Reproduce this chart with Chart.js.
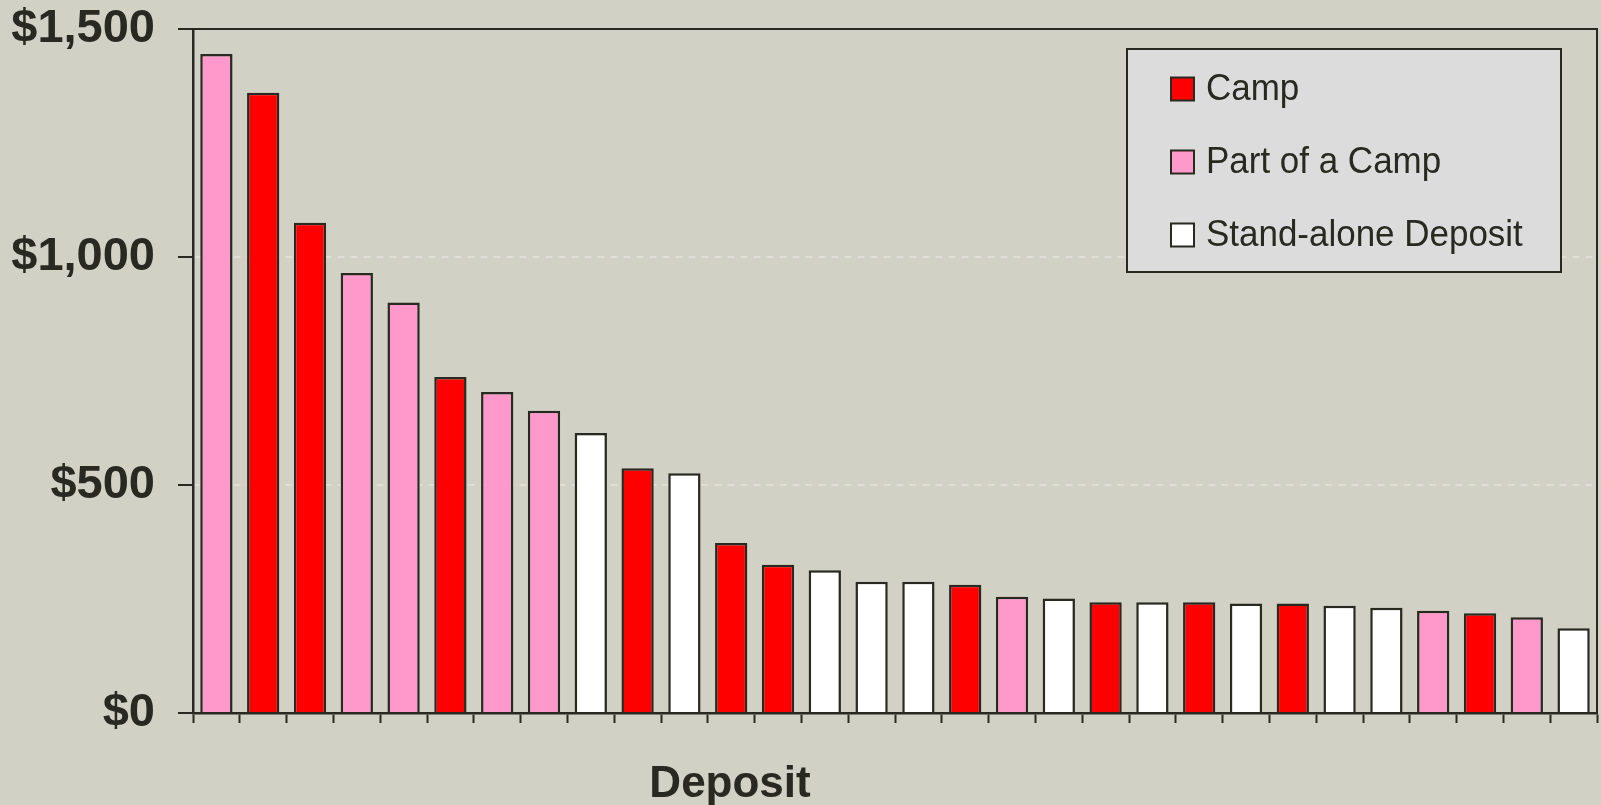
<!DOCTYPE html>
<html>
<head>
<meta charset="utf-8">
<script src="https://cdn.jsdelivr.net/npm/chart.js@4.4.0/dist/chart.umd.min.js"></script>
<style>
  html, body { margin: 0; padding: 0; background: #d1d1c5; }
  #wrap { width: 1601px; height: 805px; position: relative; }
</style>
</head>
<body>
<div id="wrap"><canvas id="c"></canvas></div>
<script>
// ---- Data ----
const deposits = ['Deposit 1','Deposit 2','Deposit 3','Deposit 4','Deposit 5','Deposit 6','Deposit 7','Deposit 8','Deposit 9','Deposit 10',
                  'Deposit 11','Deposit 12','Deposit 13','Deposit 14','Deposit 15','Deposit 16','Deposit 17','Deposit 18','Deposit 19','Deposit 20',
                  'Deposit 21','Deposit 22','Deposit 23','Deposit 24','Deposit 25','Deposit 26','Deposit 27','Deposit 28','Deposit 29','Deposit 30'];
const values = [1445, 1360, 1075, 965, 900, 737, 704, 663, 614, 537,
                526, 373, 325, 313, 288, 288, 281, 255, 251, 243,
                243, 243, 240, 240, 235, 231, 224, 219, 210, 186];
const types = ['Part of a Camp','Camp','Camp','Part of a Camp','Part of a Camp','Camp','Part of a Camp','Part of a Camp','Stand-alone Deposit','Camp',
               'Stand-alone Deposit','Camp','Camp','Stand-alone Deposit','Stand-alone Deposit','Stand-alone Deposit','Camp','Part of a Camp','Stand-alone Deposit','Camp',
               'Stand-alone Deposit','Camp','Stand-alone Deposit','Camp','Stand-alone Deposit','Stand-alone Deposit','Part of a Camp','Camp','Part of a Camp','Stand-alone Deposit'];
const seriesNames = ['Camp', 'Part of a Camp', 'Stand-alone Deposit'];
const seriesColors = ['#ff0000', '#ff99cc', '#ffffff'];
const yTicks = [0, 500, 1000, 1500];
const xTitle = 'Deposit';

// ---- Styles ----
const INK = '#282a21';
const BG = '#d1d1c5';
const FONT = "'Liberation Sans', Arial, Helvetica, sans-serif";
const colorOf = t => seriesColors[seriesNames.indexOf(t)];

const bgPlugin = {
  id: 'bg',
  beforeDraw(c) {
    const ctx = c.ctx;
    ctx.save();
    ctx.fillStyle = BG;
    ctx.fillRect(0, 0, c.width, c.height);
    ctx.restore();
  }
};

const framePlugin = {
  id: 'frame',
  afterDatasetsDraw(c) {
    const { left, top, right, bottom } = c.chartArea;
    const ctx = c.ctx;
    ctx.save();
    ctx.strokeStyle = INK;
    ctx.lineWidth = 2;
    ctx.beginPath();
    ctx.moveTo(left, top);
    ctx.lineTo(right, top);
    ctx.lineTo(right, bottom);
    ctx.stroke();
    ctx.restore();
  }
};

const boxLegend = {
  id: 'boxLegend',
  afterDraw(c) {
    const { right, top } = c.chartArea;
    const ctx = c.ctx;
    const bx = right - 470, by = top + 20, bw = 434, bh = 223;
    ctx.save();
    ctx.fillStyle = '#dcdcdc';
    ctx.fillRect(bx, by, bw, bh);
    ctx.strokeStyle = INK;
    ctx.lineWidth = 2;
    ctx.strokeRect(bx, by, bw, bh);
    ctx.font = '37px ' + FONT;
    ctx.textBaseline = 'middle';
    ctx.textAlign = 'left';
    seriesNames.forEach((name, i) => {
      const cy = by + 40 + i * 73;
      ctx.fillStyle = seriesColors[i];
      ctx.fillRect(bx + 44, cy - 11.5, 23, 23);
      ctx.strokeStyle = INK;
      ctx.lineWidth = 2;
      ctx.strokeRect(bx + 44, cy - 11.5, 23, 23);
      ctx.fillStyle = INK;
      ctx.save();
      ctx.translate(bx + 79, cy + 1);
      ctx.scale(0.945, 1);
      ctx.fillText(name, 0, 0);
      ctx.restore();
    });
    ctx.restore();
  }
};

const axisTitle = {
  id: 'axisTitle',
  afterDraw(c) {
    const { left, right } = c.chartArea;
    const ctx = c.ctx;
    ctx.save();
    ctx.font = 'bold 44px ' + FONT;
    ctx.fillStyle = INK;
    ctx.textAlign = 'center';
    ctx.textBaseline = 'alphabetic';
    ctx.fillText(xTitle, left + 0.3825 * (right - left), 797);
    ctx.restore();
  }
};

new Chart(document.getElementById('c'), {
  type: 'bar',
  data: {
    labels: deposits,
    datasets: [{
      label: 'Deposits',
      data: values,
      backgroundColor: types.map(colorOf),
      borderColor: INK,
      borderWidth: 2.5,
      barPercentage: 0.69,
      categoryPercentage: 1.0
    }]
  },
  options: {
    responsive: true,
    maintainAspectRatio: false,
    animation: false,
    layout: { padding: { top: 29, right: 4, left: 0, bottom: 0 } },
    plugins: { legend: { display: false }, tooltip: { enabled: false } },
    scales: {
      x: {
        offset: true,
        grid: { offset: true, drawOnChartArea: false, drawTicks: true, tickLength: 10, tickColor: INK, tickWidth: 2, color: INK },
        border: { display: true, color: INK, width: 2.5, z: 1 },
        ticks: { display: false },
        afterFit(s) { s.height = 92; s.paddingLeft = 0; s.paddingRight = 0; }
      },
      y: {
        min: 0,
        max: 1500,
        afterBuildTicks(s) { s.ticks = yTicks.map(v => ({ value: v })); },
        grid: { color: '#e0ded6', lineWidth: 2, tickColor: INK, tickLength: 15, tickWidth: 2 },
        border: { display: true, color: INK, width: 2.5, dash: [7, 6] },
        ticks: {
          color: INK,
          padding: 23,
          font: { family: FONT, size: 47, weight: 'bold' },
          callback: v => '$' + Number(v).toLocaleString('en-US')
        },
        afterFit(s) { s.width = 193; s.paddingTop = 0; s.paddingBottom = 0; }
      }
    }
  },
  plugins: [bgPlugin, framePlugin, boxLegend, axisTitle]
});
</script>
</body>
</html>
